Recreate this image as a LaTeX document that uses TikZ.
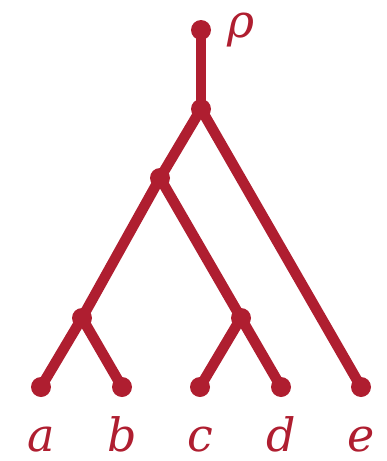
\documentclass[tikz,border=0pt]{standalone}
\usepackage{fontspec}
\setmainfont{DejaVu Serif}
\definecolor{tc}{RGB}{175,30,48}
\begin{document}
\begin{tikzpicture}[x=1pt,y=-1pt,
  edge/.style={draw=tc,line width=10.5pt},
  dot/.style={circle,fill=tc,inner sep=0pt,minimum size=20pt},
  lab/.style={text=tc,font=\fontsize{46}{50}\selectfont\itshape,inner sep=0pt}]
\useasboundingbox (0,0) rectangle (386,461);
\node[dot] (r) at (201,30) {};
\node[dot] (u) at (201,109) {};
\node[dot] (v) at (160,178) {};
\node[dot] (w) at (82,318) {};
\node[dot] (x) at (241,318) {};
\node[dot] (a) at (41,387) {};
\node[dot] (b) at (122,387) {};
\node[dot] (c) at (200,387) {};
\node[dot] (d) at (281,387) {};
\node[dot] (e) at (361,387) {};
\draw[edge] (r.center) -- (u.center);
\draw[edge] (u.center) -- (v.center);
\draw[edge] (u.center) -- (e.center);
\draw[edge] (v.center) -- (w.center);
\draw[edge] (v.center) -- (x.center);
\draw[edge] (w.center) -- (a.center);
\draw[edge] (w.center) -- (b.center);
\draw[edge] (x.center) -- (c.center);
\draw[edge] (x.center) -- (d.center);
\node[lab,anchor=base] (la) at (41,451) {a};
\node[lab,anchor=base] (lb) at (122,451) {b};
\node[lab,anchor=base] (lc) at (200,451) {c};
\node[lab,anchor=base] (ld) at (281,451) {d};
\node[lab,anchor=base] (le) at (361,451) {e};
\node[lab,anchor=base] (lr) at (241,37) {ρ};
\end{tikzpicture}
\end{document}
